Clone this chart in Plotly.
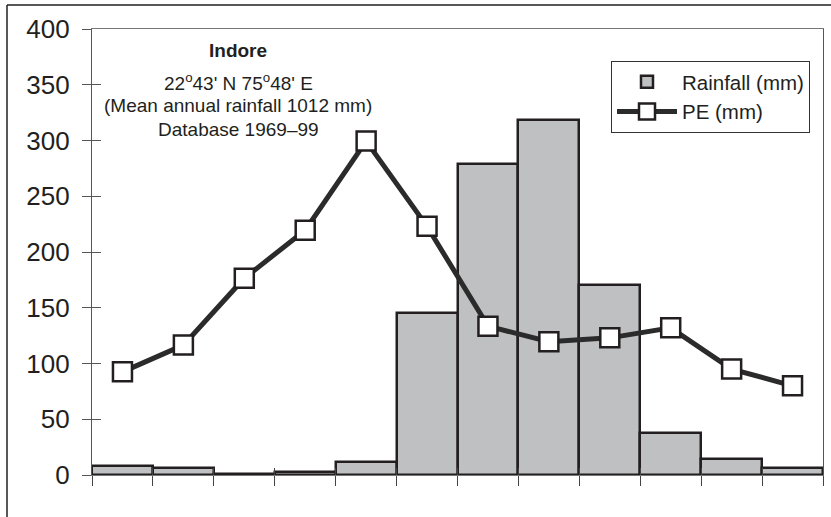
import plotly.graph_objects as go

months = ["Jan", "Feb", "Mar", "Apr", "May", "Jun", "Jul", "Aug", "Sep", "Oct", "Nov", "Dec"]
rainfall_mm = [8, 6, 0.5, 2.4, 12, 145, 279, 318, 170, 38, 14.6, 6.5]
pe_mm = [92.5, 116.5, 176.5, 219.5, 299.5, 223, 133.5, 119.5, 123, 132, 95, 80]
y_ticks = [0, 50, 100, 150, 200, 250, 300, 350, 400]
title_lines = ["<b>Indore</b>", "22<sup>o</sup>43' N 75<sup>o</sup>48' E",
               "(Mean annual rainfall 1012 mm)", "Database 1969\u201399"]

FONT = "Liberation Sans, Arial, sans-serif"
W, H = 831, 517
L, R, T, B = 92, 8, 29, 42

fig = go.Figure()
fig.add_trace(go.Bar(
    x=months, y=rainfall_mm, name="Rainfall (mm)",
    marker=dict(color="#bfc0c2", line=dict(color="#231f20", width=2.5)),
))
fig.add_trace(go.Scatter(
    x=months, y=pe_mm, name="PE (mm)", mode="lines+markers",
    line=dict(color="#2b2b2b", width=5),
    marker=dict(symbol="square", size=19, color="white",
                line=dict(color="#231f20", width=2.5)),
))
# empty trace to carry the inner half of the crossing ticks
fig.add_trace(go.Scatter(x=[None], y=[None], xaxis="x2", yaxis="y2",
                         showlegend=False, hoverinfo="skip", mode="lines"))

fig.update_layout(
    width=W, height=H,
    margin=dict(l=L, r=R, t=T, b=B, autoexpand=False),
    paper_bgcolor="white", plot_bgcolor="white",
    bargap=0,
    font=dict(family=FONT, color="#231f20"),
    showlegend=True,
    legend=dict(
        x=(611 - L) / (W - L - R), y=(H - B - 61) / (H - B - T),
        xanchor="left", yanchor="top",
        bordercolor="#333333", borderwidth=1, bgcolor="white",
        font=dict(size=20.5, family=FONT, color="#231f20"),
        itemwidth=60, tracegroupgap=4,
    ),
    xaxis=dict(
        type="category", categoryorder="array", categoryarray=months,
        range=[-0.5, 11.5], showticklabels=False,
        ticks="outside", tickson="boundaries", ticklen=10, tickwidth=1, tickcolor="#444",
        showline=True, linecolor="#777", linewidth=1, mirror=True,
        showgrid=False, zeroline=False,
    ),
    yaxis=dict(
        range=[0, 400], tickvals=y_ticks, ticks="outside", ticklen=9,
        tickwidth=1, tickcolor="#555",
        tickfont=dict(size=26, family=FONT, color="#231f20"),
        ticklabelstandoff=7,
        showline=True, linecolor="#555", linewidth=1.2, mirror=True,
        showgrid=False, zeroline=False,
    ),
    xaxis2=dict(
        overlaying="x", anchor="y2", range=[-0.5, 11.5],
        tickvals=[i + 0.5 for i in range(len(months) - 1)],
        ticks="inside", ticklen=7, tickwidth=1, tickcolor="#444",
        showticklabels=False, showgrid=False, zeroline=False, showline=False,
    ),
    yaxis2=dict(
        overlaying="y", anchor="x2", range=[0, 400], tickvals=y_ticks,
        ticks="inside", ticklen=9, tickwidth=1, tickcolor="#555",
        showticklabels=False, showgrid=False, zeroline=False, showline=False,
    ),
)

# title block text
text_y_px = [50, 82, 105, 129]
for txt, ypx in zip(title_lines, text_y_px):
    fig.add_annotation(
        text=txt, xref="paper", yref="paper",
        x=(238 - L) / (W - L - R), y=(H - B - ypx) / (H - B - T),
        xanchor="center", yanchor="middle", showarrow=False,
        font=dict(size=19, family=FONT, color="#231f20"),
    )

# outer frame (top and left edges of the figure border)
pw, ph = W - L - R, H - B - T
fx = (7 - L) / pw
fy = (H - B - 5) / ph
fig.add_shape(type="line", xref="paper", yref="paper",
              x0=fx, x1=fx, y0=-0.2, y1=fy, line=dict(color="#231f20", width=1.5))
fig.add_shape(type="line", xref="paper", yref="paper",
              x0=fx, x1=1.1, y0=fy, y1=fy, line=dict(color="#231f20", width=1.5))

fig.write_html("out.html", config={"displayModeBar": False},
               post_script="document.body.style.margin='0';document.body.style.overflow='hidden';")
